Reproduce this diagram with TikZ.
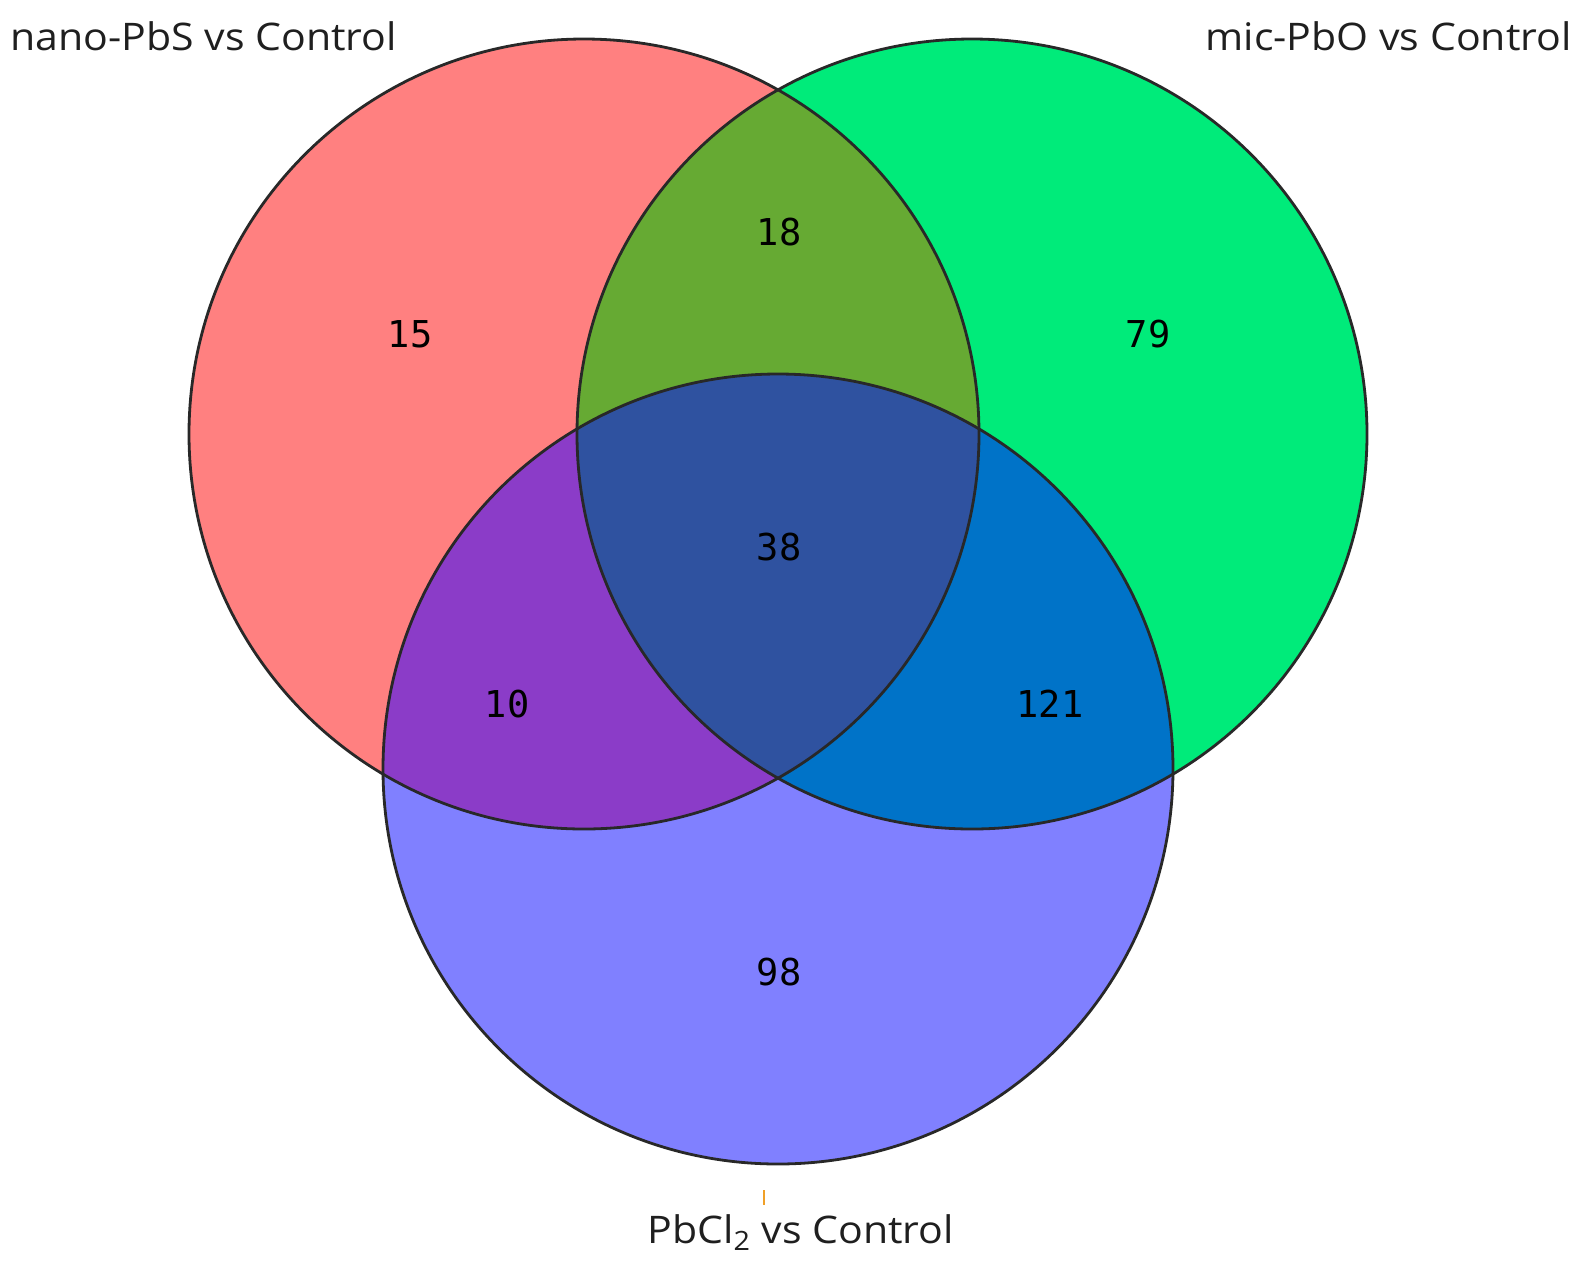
\documentclass[tikz,border=0pt]{standalone}
\usepackage{fontspec}
\setmainfont[FakeStretch=1.08]{Open Sans}
\newfontfamily\numfont{DejaVu Sans Mono}
\definecolor{cR}{RGB}{255,128,128}
\definecolor{cG}{RGB}{0,235,122}
\definecolor{cB}{RGB}{128,128,255}
\definecolor{cRG}{RGB}{102,170,51}
\definecolor{cRB}{RGB}{139,60,200}
\definecolor{cGB}{RGB}{0,115,200}
\definecolor{cRGB}{RGB}{47,82,160}
\definecolor{edge}{RGB}{40,40,40}
\definecolor{tick}{RGB}{240,160,40}
\begin{document}
\begin{tikzpicture}[x=0.5pt,y=-0.5pt,
  numlbl/.style={font=\numfont\fontsize{18.5pt}{20pt}\selectfont, text=black, inner sep=0pt},
  setlbl/.style={font=\fontsize{19pt}{22pt}\selectfont, text=black!88, inner sep=0pt},
  ring/.style={draw=edge, line width=1.4pt}]
\useasboundingbox (0,0) rectangle (1586,1271);
\def\rr{395}
\coordinate (cr) at (584,434);
\coordinate (cg) at (972,434);
\coordinate (cb) at (778,769);
% single fills
\fill[cR] (cr) circle[radius=\rr];
\fill[cG] (cg) circle[radius=\rr];
\fill[cB] (cb) circle[radius=\rr];
% pairwise
\begin{scope}
  \clip (cr) circle[radius=\rr];
  \fill[cRG] (cg) circle[radius=\rr];
  \fill[cRB] (cb) circle[radius=\rr];
\end{scope}
\begin{scope}
  \clip (cg) circle[radius=\rr];
  \fill[cGB] (cb) circle[radius=\rr];
\end{scope}
\begin{scope}
  \clip (cr) circle[radius=\rr];
  \clip (cg) circle[radius=\rr];
  \fill[cRGB] (cb) circle[radius=\rr];
\end{scope}
% outlines
\draw[ring] (cr) circle[radius=\rr];
\draw[ring] (cg) circle[radius=\rr];
\draw[ring] (cb) circle[radius=\rr];
% counts
\node[numlbl] (n15) at (410,334) {15};
\node[numlbl] (n18) at (779,232) {18};
\node[numlbl] (n79) at (1148,334) {79};
\node[numlbl] (n38) at (779,547) {38};
\node[numlbl] (n10) at (507,704) {10};
\node[numlbl] (n121) at (1050,704) {121};
\node[numlbl] (n98) at (779,972) {98};
% set labels
\node[setlbl, anchor=west] (lA) at (10,36) {nano-PbS vs Control};
\node[setlbl, anchor=east] (lB) at (1572,36) {mic-PbO vs Control};
\node[setlbl, anchor=base west] (lC) at (647,1243) {PbCl\textsubscript{2} vs Control};
% small orange mark
\coordinate (t1) at (764,1190);
\coordinate (t2) at (764,1205);
\draw[tick, line width=1pt] (t1) -- (t2);
\end{tikzpicture}
\end{document}
